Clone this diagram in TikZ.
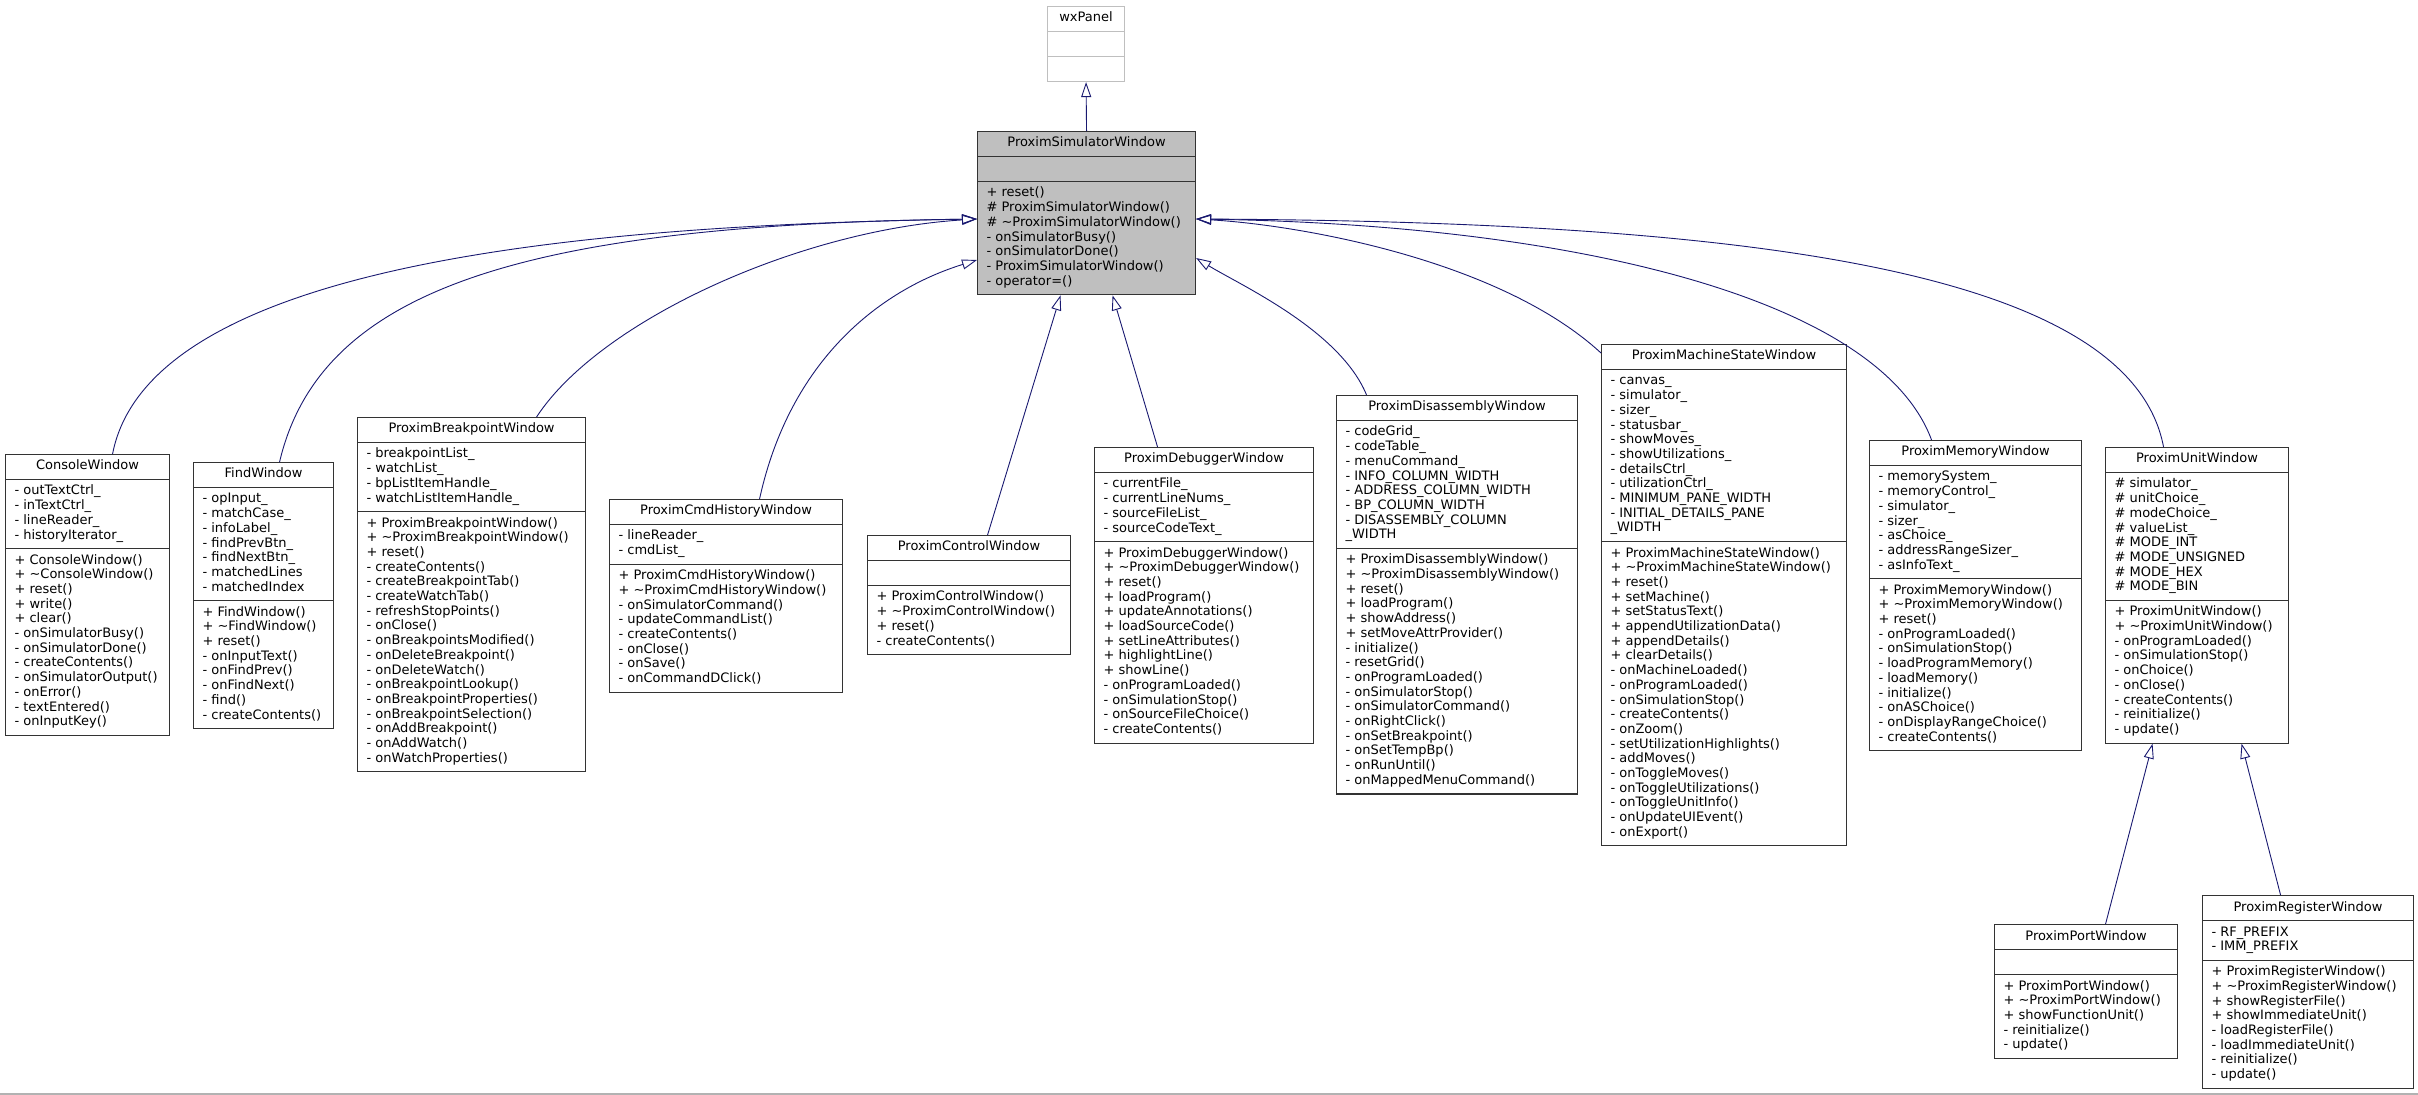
\documentclass[tikz,border=0pt]{standalone}
\usepackage{fontspec}
\setmainfont{DejaVu Sans}
\usetikzlibrary{shapes.multipart,arrows.meta}
\definecolor{edgeblue}{HTML}{191970}
\definecolor{boxgrey}{HTML}{BFBFBF}

\begin{document}
\begin{tikzpicture}[x=1pt, y=-1pt,
    cls/.style={rectangle split, rectangle split parts=3,
        rectangle split part align={center,left,left},
        draw=black!80, line width=1.1pt, fill=white, align=left,
        inner xsep=9pt, inner ysep=4.6pt, anchor=north west,
        font=\fontsize{13pt}{14.7pt}\selectfont},
    ext/.style={cls, draw=boxgrey},
    base/.style={cls, fill=boxgrey},
    inherit/.style={draw=edgeblue, line width=0.9pt,
        -{Triangle[open, length=15pt, width=10pt]}}
]
    \useasboundingbox (0,0) rectangle (2418,1095);

    \node[ext, minimum width=77pt] (wx) at (1047,6) {\strut wxPanel
        \nodepart{two}\strut
        \nodepart{three}\strut};
    \node[base, minimum width=218pt] (psw) at (977,131) {\strut ProximSimulatorWindow
        \nodepart{two}\strut
        \nodepart{three}\strut + reset()\\
        \# ProximSimulatorWindow()\\
        \# \textasciitilde ProximSimulatorWindow()\\
        - onSimulatorBusy()\\
        - onSimulatorDone()\\
        - ProximSimulatorWindow()\\
        - operator=()\strut};

    \node[cls, minimum width=164pt] (cons) at (5,454) {\strut ConsoleWindow
        \nodepart{two}\strut - outTextCtrl\_\\
        - inTextCtrl\_\\
        - lineReader\_\\
        - historyIterator\_\strut
        \nodepart{three}\strut + ConsoleWindow()\\
        + \textasciitilde ConsoleWindow()\\
        + reset()\\
        + write()\\
        + clear()\\
        - onSimulatorBusy()\\
        - onSimulatorDone()\\
        - createContents()\\
        - onSimulatorOutput()\\
        - onError()\\
        - textEntered()\\
        - onInputKey()\strut};
    \node[cls, minimum width=140pt] (find) at (193,462) {\strut FindWindow
        \nodepart{two}\strut - opInput\_\\
        - matchCase\_\\
        - infoLabel\_\\
        - findPrevBtn\_\\
        - findNextBtn\_\\
        - matchedLines\\
        - matchedIndex\strut
        \nodepart{three}\strut + FindWindow()\\
        + \textasciitilde FindWindow()\\
        + reset()\\
        - onInputText()\\
        - onFindPrev()\\
        - onFindNext()\\
        - find()\\
        - createContents()\strut};
    \node[cls, minimum width=228pt] (bp) at (357,417) {\strut ProximBreakpointWindow
        \nodepart{two}\strut - breakpointList\_\\
        - watchList\_\\
        - bpListItemHandle\_\\
        - watchListItemHandle\_\strut
        \nodepart{three}\strut + ProximBreakpointWindow()\\
        + \textasciitilde ProximBreakpointWindow()\\
        + reset()\\
        - createContents()\\
        - createBreakpointTab()\\
        - createWatchTab()\\
        - refreshStopPoints()\\
        - onClose()\\
        - onBreakpointsModified()\\
        - onDeleteBreakpoint()\\
        - onDeleteWatch()\\
        - onBreakpointLookup()\\
        - onBreakpointProperties()\\
        - onBreakpointSelection()\\
        - onAddBreakpoint()\\
        - onAddWatch()\\
        - onWatchProperties()\strut};
    \node[cls, minimum width=233pt] (cmd) at (609,499) {\strut ProximCmdHistoryWindow
        \nodepart{two}\strut - lineReader\_\\
        - cmdList\_\strut
        \nodepart{three}\strut + ProximCmdHistoryWindow()\\
        + \textasciitilde ProximCmdHistoryWindow()\\
        - onSimulatorCommand()\\
        - updateCommandList()\\
        - createContents()\\
        - onClose()\\
        - onSave()\\
        - onCommandDClick()\strut};
    \node[cls, minimum width=203pt] (ctrl) at (867,535) {\strut ProximControlWindow
        \nodepart{two}\strut
        \nodepart{three}\strut + ProximControlWindow()\\
        + \textasciitilde ProximControlWindow()\\
        + reset()\\
        - createContents()\strut};
    \node[cls, minimum width=219pt] (dbg) at (1094,447) {\strut ProximDebuggerWindow
        \nodepart{two}\strut - currentFile\_\\
        - currentLineNums\_\\
        - sourceFileList\_\\
        - sourceCodeText\_\strut
        \nodepart{three}\strut + ProximDebuggerWindow()\\
        + \textasciitilde ProximDebuggerWindow()\\
        + reset()\\
        + loadProgram()\\
        + updateAnnotations()\\
        + loadSourceCode()\\
        + setLineAttributes()\\
        + highlightLine()\\
        + showLine()\\
        - onProgramLoaded()\\
        - onSimulationStop()\\
        - onSourceFileChoice()\\
        - createContents()\strut};
    \node[cls, minimum width=241pt] (dis) at (1336,395) {\strut ProximDisassemblyWindow
        \nodepart{two}\strut - codeGrid\_\\
        - codeTable\_\\
        - menuCommand\_\\
        - INFO\_COLUMN\_WIDTH\\
        - ADDRESS\_COLUMN\_WIDTH\\
        - BP\_COLUMN\_WIDTH\\
        - DISASSEMBLY\_COLUMN\\
        \_WIDTH\strut
        \nodepart{three}\strut + ProximDisassemblyWindow()\\
        + \textasciitilde ProximDisassemblyWindow()\\
        + reset()\\
        + loadProgram()\\
        + showAddress()\\
        + setMoveAttrProvider()\\
        - initialize()\\
        - resetGrid()\\
        - onProgramLoaded()\\
        - onSimulatorStop()\\
        - onSimulatorCommand()\\
        - onRightClick()\\
        - onSetBreakpoint()\\
        - onSetTempBp()\\
        - onRunUntil()\\
        - onMappedMenuCommand()\strut};
    \node[cls, minimum width=245pt] (mach) at (1601,344) {\strut ProximMachineStateWindow
        \nodepart{two}\strut - canvas\_\\
        - simulator\_\\
        - sizer\_\\
        - statusbar\_\\
        - showMoves\_\\
        - showUtilizations\_\\
        - detailsCtrl\_\\
        - utilizationCtrl\_\\
        - MINIMUM\_PANE\_WIDTH\\
        - INITIAL\_DETAILS\_PANE\\
        \_WIDTH\strut
        \nodepart{three}\strut + ProximMachineStateWindow()\\
        + \textasciitilde ProximMachineStateWindow()\\
        + reset()\\
        + setMachine()\\
        + setStatusText()\\
        + appendUtilizationData()\\
        + appendDetails()\\
        + clearDetails()\\
        - onMachineLoaded()\\
        - onProgramLoaded()\\
        - onSimulationStop()\\
        - createContents()\\
        - onZoom()\\
        - setUtilizationHighlights()\\
        - addMoves()\\
        - onToggleMoves()\\
        - onToggleUtilizations()\\
        - onToggleUnitInfo()\\
        - onUpdateUIEvent()\\
        - onExport()\strut};
    \node[cls, minimum width=212pt] (mem) at (1869,440) {\strut ProximMemoryWindow
        \nodepart{two}\strut - memorySystem\_\\
        - memoryControl\_\\
        - simulator\_\\
        - sizer\_\\
        - asChoice\_\\
        - addressRangeSizer\_\\
        - asInfoText\_\strut
        \nodepart{three}\strut + ProximMemoryWindow()\\
        + \textasciitilde ProximMemoryWindow()\\
        + reset()\\
        - onProgramLoaded()\\
        - onSimulationStop()\\
        - loadProgramMemory()\\
        - loadMemory()\\
        - initialize()\\
        - onASChoice()\\
        - onDisplayRangeChoice()\\
        - createContents()\strut};
    \node[cls, minimum width=183pt] (unit) at (2105,447) {\strut ProximUnitWindow
        \nodepart{two}\strut \# simulator\_\\
        \# unitChoice\_\\
        \# modeChoice\_\\
        \# valueList\_\\
        \# MODE\_INT\\
        \# MODE\_UNSIGNED\\
        \# MODE\_HEX\\
        \# MODE\_BIN\strut
        \nodepart{three}\strut + ProximUnitWindow()\\
        + \textasciitilde ProximUnitWindow()\\
        - onProgramLoaded()\\
        - onSimulationStop()\\
        - onChoice()\\
        - onClose()\\
        - createContents()\\
        - reinitialize()\\
        - update()\strut};
    \node[cls, minimum width=183pt] (port) at (1994,924) {\strut ProximPortWindow
        \nodepart{two}\strut
        \nodepart{three}\strut + ProximPortWindow()\\
        + \textasciitilde ProximPortWindow()\\
        + showFunctionUnit()\\
        - reinitialize()\\
        - update()\strut};
    \node[cls, minimum width=211pt] (reg) at (2202,895) {\strut ProximRegisterWindow
        \nodepart{two}\strut - RF\_PREFIX\\
        - IMM\_PREFIX\strut
        \nodepart{three}\strut + ProximRegisterWindow()\\
        + \textasciitilde ProximRegisterWindow()\\
        + showRegisterFile()\\
        + showImmediateUnit()\\
        - loadRegisterFile()\\
        - loadImmediateUnit()\\
        - reinitialize()\\
        - update()\strut};

    % inheritance
    \draw[inherit] (psw.north) -- (wx.south);
    \draw[inherit] ([xshift=25pt]cons.north) .. controls (150,260) and (600,225) .. ([yshift=-88pt]psw.north west);
    \draw[inherit] ([xshift=16pt]find.north) .. controls (320,290) and (520,225) .. ([yshift=-88pt]psw.north west);
    \draw[inherit] ([xshift=65pt]bp.north) .. controls (600,320) and (800,230) .. ([yshift=-88pt]psw.north west);
    \draw[inherit] ([xshift=33.5pt]cmd.north) .. controls (790,360) and (880,290) .. ([yshift=-129pt]psw.north west);
    \draw[inherit] ([xshift=18.5pt]ctrl.north) -- ([xshift=-26pt]psw.south);
    \draw[inherit] ([xshift=-46.5pt]dbg.north) -- ([xshift=26pt]psw.south);
    \draw[inherit] ([xshift=-90.5pt]dis.north) .. controls (1340,330) and (1240,285) .. ([yshift=-127pt]psw.north east);
    \draw[inherit] ([yshift=-9pt]mach.north west) .. controls (1500,260) and (1300,225) .. ([yshift=-88pt]psw.north east);
    \draw[inherit] ([xshift=-44pt]mem.north) .. controls (1880,300) and (1580,225) .. ([yshift=-88pt]psw.north east);
    \draw[inherit] ([xshift=-33.5pt]unit.north) .. controls (2130,270) and (1750,222) .. ([yshift=-88pt]psw.north east);
    \draw[inherit] ([xshift=19.5pt]port.north) -- ([xshift=-44.5pt]unit.south);
    \draw[inherit] ([xshift=-27.5pt]reg.north) -- ([xshift=44.5pt]unit.south);

    \draw[gray!60, line width=1.5pt] (0,1094) -- (2418,1094);
\end{tikzpicture}
\end{document}
